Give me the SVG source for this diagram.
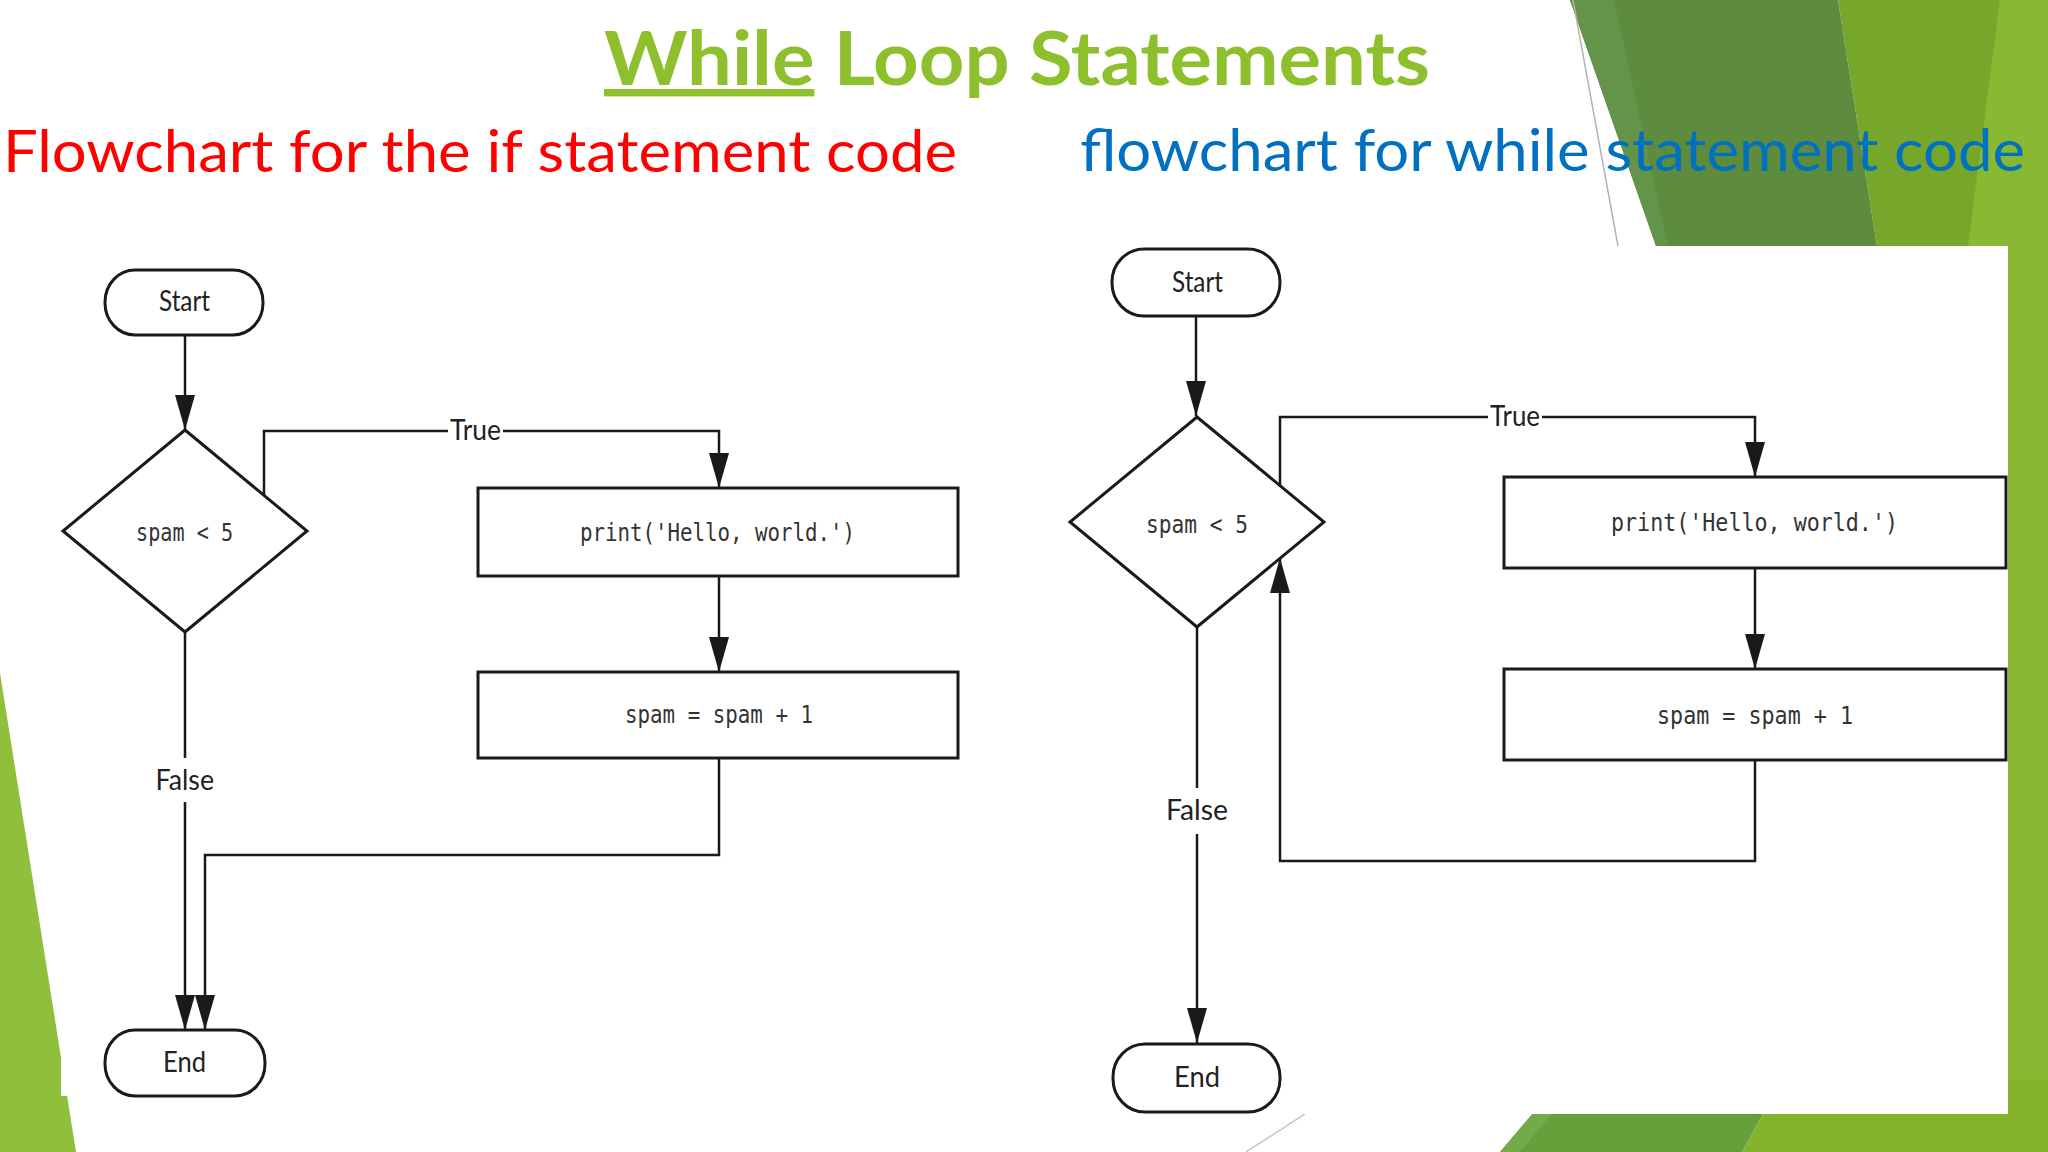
<svg xmlns="http://www.w3.org/2000/svg" width="2048" height="1152" viewBox="0 0 2048 1152">
<style>
.node{fill:#fff;stroke:#1a1a1a;stroke-width:3}
.conn{fill:none;stroke:#1a1a1a;stroke-width:2.5}
.lbl{font-family:Lato,"Open Sans","DejaVu Sans",sans-serif;font-size:28px;fill:#222}
.code{font-family:"DejaVu Sans Mono","Liberation Mono",monospace;font-size:24px;fill:#333}
.sub{font-family:Lato,"Open Sans","DejaVu Sans",sans-serif;font-size:58px}
</style>
<defs>
<marker id="arrow" markerUnits="userSpaceOnUse" markerWidth="36" markerHeight="20" refX="35" refY="10" orient="auto" viewBox="0 0 36 20">
<path d="M0,0 L35,10 L0,20 Z" fill="#1a1a1a"/>
</marker>
</defs>
<rect width="2048" height="1152" fill="#fff"/>
<g id="background">
<rect x="1900" y="0" width="148" height="1152" fill="#89B832"/>
<polygon points="1838,0 2000,0 1968,246 1877,246" fill="#76A72B"/>
<polygon points="1570,0 1838,0 1877,246 1656,246" fill="#5E8C3E"/>
<polygon points="1570,0 1614,0 1668,246 1656,246" fill="#64934A"/>
<line x1="1573" y1="0" x2="1618" y2="246" stroke="#b4b4b4" stroke-width="1.5"/>
<polygon points="1782,1080 2048,1080 2048,1152 1742,1152" fill="#84B42B"/>
<polygon points="1561,1080 1782,1080 1742,1152 1500,1152" fill="#65A03B"/>
<polygon points="1561,1080 1580,1080 1520,1152 1500,1152" fill="#73AA4C"/>
<line x1="1305" y1="1114" x2="1246" y2="1152" stroke="#c8c8c8" stroke-width="1.5"/>
<polygon points="0,673 76,1152 0,1152" fill="#8FBF3B"/>
<rect x="1060" y="246" width="948" height="868" fill="#fff"/>
<rect x="61" y="230" width="940" height="866" fill="#fff"/>
</g>
<g id="titles">
<text x="604" y="85" textLength="826" lengthAdjust="spacingAndGlyphs" font-family="Lato,'Open Sans',sans-serif" font-weight="bold" font-size="74" fill="#8DC02C"><tspan text-decoration="underline">While</tspan> Loop Statements</text>
<text class="sub" x="3" y="172" textLength="954" lengthAdjust="spacingAndGlyphs" fill="#FF0000">Flowchart for the if statement code</text>
<text class="sub" x="1080" y="171" textLength="945" lengthAdjust="spacingAndGlyphs" fill="#0070C0">flowchart for while statement code</text>
</g>
<g id="connectors">
<path class="conn" d="M185,335 V430" marker-end="url(#arrow)"/>
<path class="conn" d="M264,495 V431 H448 M503,431 H719 V488" marker-end="url(#arrow)"/>
<path class="conn" d="M719,576 V672" marker-end="url(#arrow)"/>
<path class="conn" d="M719,758 V855 H205 V1030" marker-end="url(#arrow)"/>
<path class="conn" d="M185,632 V758 M185,802 V1030" marker-end="url(#arrow)"/>
<text class="lbl" x="450" y="440" textLength="51" lengthAdjust="spacingAndGlyphs">True</text>
<text class="lbl" x="155.5" y="790" textLength="58.5" lengthAdjust="spacingAndGlyphs">False</text>
<path class="conn" d="M1196,316 V416" marker-end="url(#arrow)"/>
<path class="conn" d="M1280,485 V417 H1488 M1542,417 H1755 V477" marker-end="url(#arrow)"/>
<path class="conn" d="M1755,568 V669" marker-end="url(#arrow)"/>
<path class="conn" d="M1755,760 V861 H1280 V558" marker-end="url(#arrow)"/>
<path class="conn" d="M1197,627 V788 M1197,834 V1043" marker-end="url(#arrow)"/>
<text class="lbl" x="1490" y="426" textLength="50" lengthAdjust="spacingAndGlyphs">True</text>
<text class="lbl" x="1166" y="820" textLength="62" lengthAdjust="spacingAndGlyphs">False</text>
</g>
<g id="if-start">
<rect class="node" x="105" y="270" width="158" height="65" rx="30" ry="32"/>
<text class="lbl" x="159" y="311" textLength="51" lengthAdjust="spacingAndGlyphs">Start</text>
</g>
<g id="if-decision">
<polygon class="node" points="185,430 307,531 185,632 63,531"/>
<text class="code" x="136" y="541" textLength="97" lengthAdjust="spacingAndGlyphs">spam &lt; 5</text>
</g>
<g id="if-print">
<rect class="node" x="478" y="488" width="480" height="88"/>
<text class="code" x="580" y="541" textLength="275" lengthAdjust="spacingAndGlyphs">print('Hello, world.')</text>
</g>
<g id="if-increment">
<rect class="node" x="478" y="672" width="480" height="86"/>
<text class="code" x="625" y="723" textLength="188" lengthAdjust="spacingAndGlyphs">spam = spam + 1</text>
</g>
<g id="if-end">
<rect class="node" x="105" y="1030" width="160" height="66" rx="30" ry="32"/>
<text class="lbl" x="163" y="1072" textLength="43" lengthAdjust="spacingAndGlyphs">End</text>
</g>
<g id="while-start">
<rect class="node" x="1112" y="249" width="168" height="67" rx="32" ry="33"/>
<text class="lbl" x="1172" y="292" textLength="51" lengthAdjust="spacingAndGlyphs">Start</text>
</g>
<g id="while-decision">
<polygon class="node" points="1197,417 1324,522 1197,627 1070,522"/>
<text class="code" x="1146" y="533" textLength="102" lengthAdjust="spacingAndGlyphs">spam &lt; 5</text>
</g>
<g id="while-print">
<rect class="node" x="1504" y="477" width="502" height="91"/>
<text class="code" x="1611" y="531" textLength="287" lengthAdjust="spacingAndGlyphs">print('Hello, world.')</text>
</g>
<g id="while-increment">
<rect class="node" x="1504" y="669" width="502" height="91"/>
<text class="code" x="1657" y="724" textLength="196" lengthAdjust="spacingAndGlyphs">spam = spam + 1</text>
</g>
<g id="while-end">
<rect class="node" x="1113" y="1044" width="167" height="68" rx="32" ry="33"/>
<text class="lbl" x="1174" y="1087" textLength="46" lengthAdjust="spacingAndGlyphs">End</text>
</g>
</svg>
